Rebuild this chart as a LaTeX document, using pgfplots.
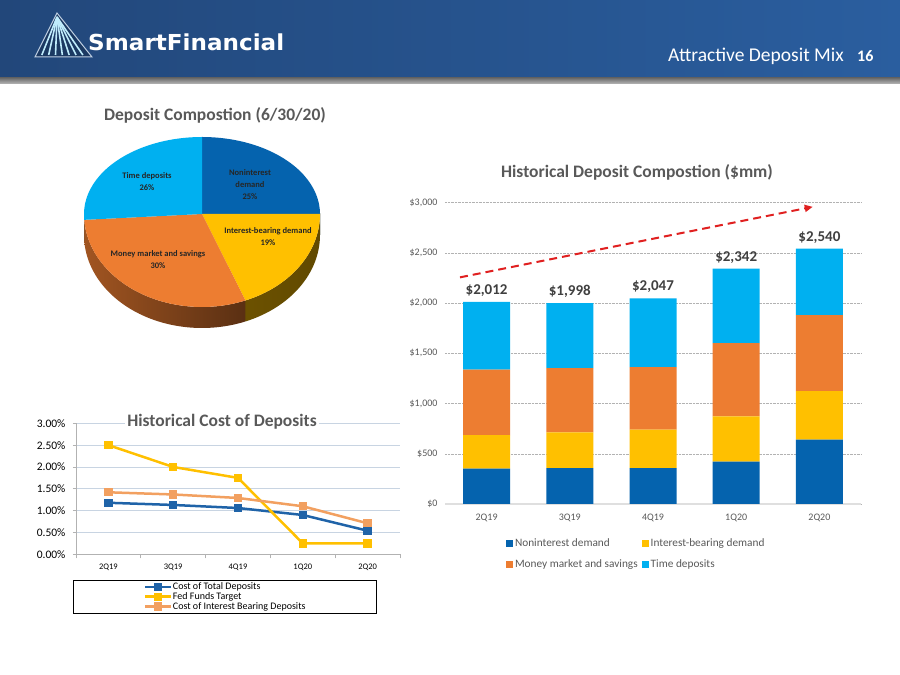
\documentclass[border=0pt]{standalone}
\usepackage{fontspec}
\setmainfont{Carlito}
\newfontfamily\logofont{DejaVu Sans}
\usepackage{pgfplots}
\usepackage{pgfplotstable}
\pgfplotsset{compat=1.18}
\pgfplotsset{/pgf/number format/assume math mode=true}
\usetikzlibrary{arrows.meta}

\definecolor{cNon}{HTML}{0563AE}
\definecolor{cInt}{HTML}{FFC000}
\definecolor{cMon}{HTML}{ED7D31}
\definecolor{cTime}{HTML}{00B0F0}
\definecolor{hdrL}{HTML}{22477A}
\definecolor{hdrR}{HTML}{2A5E9F}
\definecolor{txtGray}{HTML}{595959}
\definecolor{lBlue}{HTML}{1F63A8}
\definecolor{lYel}{HTML}{FFC000}
\definecolor{lOra}{HTML}{F2A060}
\definecolor{gridB}{HTML}{C8D4E2}
\definecolor{arrowRed}{HTML}{E02020}

\pgfplotstableread{
x  non int mon time total
0  351 335 650 676 2012
1  358 355 639 646 1998
2  358 381 623 685 2047
3  421 451 729 741 2342
4  640 484 755 661 2540
}\deposits

\pgfplotstableread{
x total fed ibd
0 1.18 2.50 1.42
1 1.13 2.00 1.37
2 1.06 1.75 1.29
3 0.90 0.25 1.10
4 0.54 0.25 0.71
}\cost

\pgfplotsset{sqleg/.style={legend image code/.code={\fill[##1] (0pt,-3.5pt) rectangle (7pt,3.5pt);}}}

\begin{document}
\begin{tikzpicture}[x=1pt,y=1pt]
\fill[white] (0,0) rectangle (900,675);
% header
\shade[left color=hdrL, right color=hdrR] (0,597) rectangle (900,675);
\shade[top color=gray!85!black, bottom color=gray!55] (0,591) rectangle (900,597);
% logo
\fill[hdrL!80!black] (57,662) -- (35,618) -- (92,618) -- cycle;
\foreach \t in {0.12,0.24,...,0.9} {
  \draw[white!75!cTime, line width=1.6pt] (57,658) -- ({35+\t*57},620);
}
\draw[white!70!hdrR, line width=1pt] (57,662) -- (35,618) -- (92,618) -- cycle;
\node[anchor=west, text=white, inner sep=0pt, xscale=1.05, font=\logofont\bfseries\fontsize{22}{22}\selectfont] at (88,633) {SmartFinancial};
\node[anchor=base east, text=white, inner sep=0pt, font=\fontsize{19.5}{19.5}\selectfont] at (844,613) {Attractive Deposit Mix};
\node[anchor=base west, text=white, inner sep=0pt, font=\bfseries\fontsize{16}{16}\selectfont] at (857,613) {16};

% pie title
\node[text=txtGray, font=\bfseries\fontsize{17.5}{17.5}\selectfont] at (215,560) {Deposit Compostion (6/30/20)};

% pie: centre (202,461); upper half y-radius 77, lower half y-radius 93, depth 21
% sides (front half only)
\foreach \v/\cum/\cl/\cr in {25/0/cNon!45!black/cNon!45!black, 19/25/cInt!45!black/cInt!38!black, 30/44/cMon!68!black/cMon!38!black, 26/74/cTime!50!black/cTime!50!black} {
  \pgfmathsetmacro\s{90-3.6*\cum}
  \pgfmathsetmacro\e{90-3.6*(\cum+\v)}
  \pgfmathsetmacro\ss{min(\s,0)}
  \pgfmathsetmacro\ee{max(\e,-180)}
  \ifdim\ss pt>\ee pt
    \shade[left color=\cl, right color=\cr]
      (202,461) ++(\ss:118pt and 93pt) arc[start angle=\ss, end angle=\ee, x radius=118pt, y radius=93pt]
      -- ++(0,-21) arc[start angle=\ee, end angle=\ss, x radius=118pt, y radius=93pt] -- cycle;
  \fi
}
% top face: upper half
\begin{scope}
\clip (60,461) rectangle (340,560);
\foreach \v/\cum/\col in {25/0/cNon, 19/25/cInt, 30/44/cMon, 26/74/cTime} {
  \pgfmathsetmacro\s{90-3.6*\cum}
  \pgfmathsetmacro\e{90-3.6*(\cum+\v)}
  \fill[\col] (202,461) -- ++(\s:118pt and 77pt) arc[start angle=\s, end angle=\e, x radius=118pt, y radius=77pt] -- cycle;
}
\end{scope}
% top face: lower half
\begin{scope}
\clip (60,461) rectangle (340,330);
\foreach \v/\cum/\col in {25/0/cNon, 19/25/cInt, 30/44/cMon, 26/74/cTime} {
  \pgfmathsetmacro\s{90-3.6*\cum}
  \pgfmathsetmacro\e{90-3.6*(\cum+\v)}
  \fill[\col] (202,461) -- ++(\s:118pt and 93pt) arc[start angle=\s, end angle=\e, x radius=118pt, y radius=93pt] -- cycle;
}
\end{scope}
\begin{scope}[every node/.style={align=center, text=black!85, font=\bfseries\fontsize{8.5}{12}\selectfont}]
\node at (250,490) {Noninterest\\demand\\25\%};
\node at (147,493) {Time deposits\\26\%};
\node at (268,438) {Interest-bearing demand\\19\%};
\node at (158,415) {Money market and savings\\30\%};
\end{scope}

% bar chart
\begin{axis}[
  at={(445pt,171pt)}, anchor=south west, scale only axis,
  width=416pt, height=301.5pt,
  ybar stacked, bar width=47pt,
  xmin=-0.5, xmax=4.5, ymin=0, ymax=3000,
  enlargelimits=false,
  xtick={0,...,4}, xticklabels={2Q19,3Q19,4Q19,1Q20,2Q20},
  ytick={0,500,...,3000},
  scaled y ticks=false,
  yticklabel={\$\pgfmathprintnumber[1000 sep={,}]{\tick}},
  axis x line*=bottom, axis y line*=left,
  x axis line style={draw=gray!25, line width=1.2pt},
  y axis line style={draw=none},
  major tick length=0pt,
  ymajorgrids, grid style={densely dotted, gray!60},
  tick label style={font=\fontsize{10}{10}\selectfont, text=txtGray},
  yticklabel style={xshift=-4pt},
  xticklabel style={yshift=-6pt},
  legend columns=2,
  legend cell align=left,
  legend style={at={(0.139,-0.100)}, anchor=north west, draw=none, fill=none,
    font=\fontsize{11.3}{12}\selectfont, text=txtGray,
    /tikz/column sep=0pt,
    /tikz/every even column/.append style={column sep=2pt},
    row sep=8pt},
]
\addplot[fill=cNon, draw=none, sqleg] table[x=x,y=non]{\deposits};
\addplot[fill=cInt, draw=none, sqleg] table[x=x,y=int]{\deposits};
\addplot[fill=cMon, draw=none, sqleg] table[x=x,y=mon]{\deposits};
\addplot[fill=cTime, draw=none, sqleg] table[x=x,y=time]{\deposits};
\legend{Noninterest demand, Interest-bearing demand, Money market and savings, Time deposits}
\draw[arrowRed, line width=2pt, dash pattern=on 8pt off 5pt, -{Triangle[length=8pt,width=7pt]}]
  (axis cs:-0.32,2255) -- (axis cs:3.92,2957);
\end{axis}
% bar totals (overlay axis with the same frame)
\begin{axis}[
  at={(445pt,171pt)}, anchor=south west, scale only axis,
  width=416pt, height=301.5pt,
  xmin=-0.5, xmax=4.5, ymin=0, ymax=3000,
  hide axis, clip=false,
]
\addplot[draw=none, mark=none, point meta=explicit,
  nodes near coords={\$\pgfmathprintnumber[1000 sep={,}]{\pgfplotspointmeta}},
  nodes near coords style={font=\bfseries\fontsize{15}{15}\selectfont, text=black!75, anchor=south, yshift=2pt}
  ] table[x=x,y=total,meta=total]{\deposits};
\end{axis}
\node[text=txtGray, font=\bfseries\fontsize{17.5}{17.5}\selectfont] at (637,503) {Historical Deposit Compostion (\$mm)};

% line chart
\begin{axis}[
  at={(76pt,120.7pt)}, anchor=south west, scale only axis,
  width=324pt, height=131pt,
  xmin=-0.5, xmax=4.5, ymin=0, ymax=3,
  xtick={0,...,4}, xticklabels={2Q19,3Q19,4Q19,1Q20,2Q20},
  minor xtick={-0.5,0.5,1.5,2.5,3.5,4.5},
  ytick={0,0.5,...,3},
  yticklabel={\pgfmathprintnumber[fixed,fixed zerofill,precision=2]{\tick}\%},
  axis x line*=bottom, axis y line*=left,
  axis line style={draw=gray!60, line width=0.6pt},
  tick align=outside,
  major x tick style={draw=none},
  minor x tick style={draw=gray!60, line width=0.6pt},
  major y tick style={draw=gray!60, line width=0.6pt},
  major tick length=3pt, minor tick length=4pt,
  ymajorgrids, grid style={gridB, line width=0.8pt},
  xticklabel style={font=\fontsize{8.5}{8.5}\selectfont, text=black, yshift=-3pt},
  yticklabel style={font=\fontsize{11.5}{12}\selectfont, text=black, xshift=-4pt},
  legend cell align=left,
  legend style={at={(-0.009,-0.196)}, anchor=north west, draw=black, line width=0.6pt,
    inner xsep=70.5pt, inner ysep=2pt,
    font=\fontsize{10}{11}\selectfont, nodes={inner sep=0.6pt}, row sep=0pt},
  legend image code/.code={\draw[#1] (0pt,0pt) -- (26pt,0pt); \draw[#1] plot coordinates {(13pt,0pt)};},
  every axis plot/.append style={line width=2.5pt, mark=square*, mark size=2.9pt, mark options={solid, rounded corners=1.2pt}},
]
\addplot[lBlue] table[x=x,y=total]{\cost};
\addplot[lYel] table[x=x,y=fed]{\cost};
\addplot[lOra] table[x=x,y=ibd]{\cost};
\legend{Cost of Total Deposits, Fed Funds Target, Cost of Interest Bearing Deposits}
\end{axis}
\node[fill=white, inner sep=2pt, text=txtGray, font=\bfseries\fontsize{17.5}{17.5}\selectfont] at (222,253) {Historical Cost of Deposits};
\pgfresetboundingbox
\useasboundingbox (0,0) rectangle (900,675);
\end{tikzpicture}
\end{document}
